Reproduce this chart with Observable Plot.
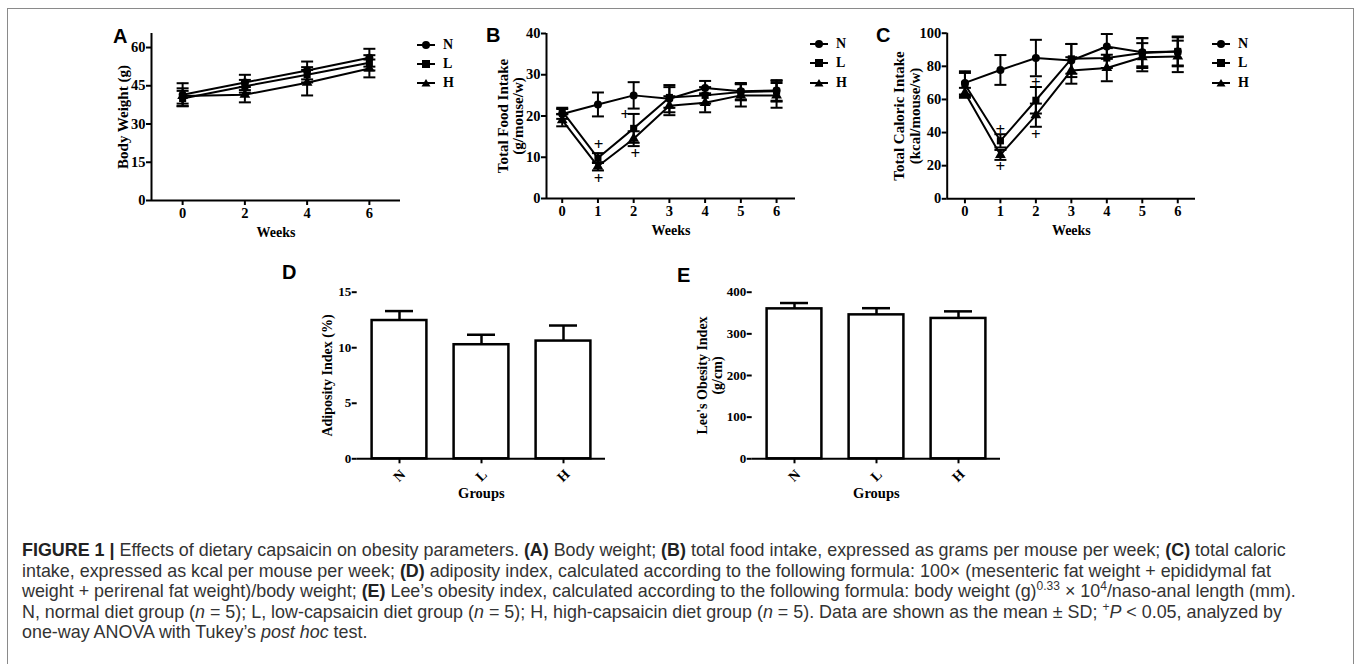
<!DOCTYPE html>
<html>
<head>
<meta charset="utf-8">
<script src="https://cdn.jsdelivr.net/npm/d3@7"></script>
<script src="https://cdn.jsdelivr.net/npm/@observablehq/plot@0.6"></script>
<style>
  html, body { margin: 0; padding: 0; background: #fff; }
  #page { position: relative; width: 1357px; height: 664px; overflow: hidden; background: #fff; }
  #frame { position: absolute; left: 7px; top: 8px; width: 1347px; height: 720px; border: 1.5px solid #8a8a8a; box-sizing: border-box; }
  .panel { position: absolute; }
  .panel svg { overflow: visible; }
  .letter { position: absolute; font-family: "Liberation Sans", Arial, sans-serif; font-weight: bold; font-size: 20px; line-height: 20px; color: #000; }
  .legend { position: absolute; font-family: "Liberation Serif", "Times New Roman", serif; font-weight: bold; font-size: 14px; color: #000; }
  .legend .row { position: absolute; left: 0; height: 14px; display: flex; align-items: center; white-space: nowrap; }
  .legend svg { display: block; margin-right: 8px; }
  #caption { position: absolute; left: 22px; top: 540px; font-family: "Liberation Sans", Arial, sans-serif; font-size: 17.9px; line-height: 20.5px; color: #333; white-space: nowrap; }
  #caption b { color: #222; }
  #caption sup { font-size: 12px; line-height: 0; vertical-align: 7px; }
</style>
</head>
<body>
<div id="page">
  <div id="frame"></div>
</div>
<script>
// ---------------- data ----------------
const groups = ["N", "L", "H"];
const groupSymbols = ["circle", "square", "triangle"];

// Panel A: body weight (g)
const weeksA = [0, 2, 4, 6];
const bodyN = [41.5, 46.3, 51.0, 56.0];
const bodyN_sd = [4.5, 3.0, 3.5, 3.5];
const bodyL = [40.0, 44.8, 49.3, 54.0];
const bodyL_sd = [3.0, 2.5, 3.0, 3.0];
const bodyH = [41.0, 41.5, 46.2, 51.8];
const bodyH_sd = [3.0, 3.0, 5.0, 3.5];
const ticksA_y = [0, 15, 30, 45, 60];
const ticksA_x = [0, 2, 4, 6];

// Panel B: total food intake (g/mouse/w)
const weeksB = [0, 1, 2, 3, 4, 5, 6];
const foodN = [20.5, 22.8, 25.0, 24.2, 26.8, 26.0, 26.2];
const foodN_sd = [1.2, 2.9, 3.2, 3.3, 1.7, 2.0, 2.5];
const foodL = [21.2, 9.8, 17.0, 24.5, 25.0, 25.8, 26.0];
const foodL_sd = [0.8, 1.2, 3.5, 2.5, 2.0, 2.0, 2.5];
const foodH = [19.0, 7.8, 14.5, 22.5, 23.2, 25.0, 25.0];
const foodH_sd = [1.5, 1.0, 1.8, 2.3, 2.3, 2.7, 3.0];
const ticksB_y = [0, 10, 20, 30, 40];
const plusB_x = [1.02, 1.02, 1.77, 2.05];
const plusB_y = [13.0, 4.8, 20.3, 11.0];

// Panel C: total caloric intake (kcal/mouse/w)
const weeksC = [0, 1, 2, 3, 4, 5, 6];
const calN = [70.0, 77.8, 85.0, 83.5, 92.0, 88.5, 89.0];
const calN_sd = [7.0, 9.0, 11.0, 10.0, 7.5, 8.5, 8.5];
const calL = [69.0, 35.0, 59.5, 84.5, 85.0, 88.0, 89.0];
const calL_sd = [7.0, 4.0, 8.0, 9.0, 6.0, 9.0, 9.0];
const calH = [64.0, 26.5, 50.5, 77.5, 79.0, 85.5, 86.0];
const calH_sd = [3.0, 3.0, 7.0, 8.0, 8.0, 8.5, 9.5];
const ticksC_y = [0, 20, 40, 60, 80, 100];
const plusC_x = [1, 1, 2, 2];
const plusC_y = [41.7, 19.5, 70.5, 38.6];

// Panel D: adiposity index (%)
const adiposity = [12.45, 10.27, 10.6];
const adiposity_sd = [0.85, 0.9, 1.4];
const ticksD_y = [0, 5, 10, 15];

// Panel E: Lee's obesity index (g/cm)
const lee = [360, 345.6, 337];
const lee_sd = [14, 16, 17];
const ticksE_y = [0, 100, 200, 300, 400];

// ---------------- helpers ----------------
const page = document.getElementById("page");
const serif = "'Liberation Serif', 'Times New Roman', serif";
const lineStyle = {fontFamily: serif, fontSize: "14.5px", fontWeight: "bold", background: "transparent", color: "#000", overflow: "visible"};
const barStyle = {fontFamily: serif, fontSize: "13px", fontWeight: "bold", background: "transparent", color: "#000", overflow: "visible"};

const capSymbol = {
  draw(context, size) {
    const r = Math.sqrt(size / Math.PI);
    context.moveTo(-r, 0);
    context.lineTo(r, 0);
  }
};

function place(node, left, top) {
  const wrap = document.createElement("div");
  wrap.className = "panel";
  wrap.style.left = left + "px";
  wrap.style.top = top + "px";
  wrap.appendChild(node);
  page.appendChild(wrap);
}

function letter(txt, left, top) {
  const d = document.createElement("div");
  d.className = "letter";
  d.textContent = txt;
  d.style.left = left + "px";
  d.style.top = top + "px";
  page.appendChild(d);
}

function legend(left, tops) {
  const box = document.createElement("div");
  box.className = "legend";
  box.style.left = left + "px";
  box.style.top = "0px";
  groups.forEach((g, i) => {
    const row = document.createElement("div");
    row.className = "row";
    row.style.top = (tops[i] - 7) + "px";
    let marker;
    if (groupSymbols[i] === "circle") marker = '<circle cx="9" cy="7" r="4" fill="#000"/>';
    else if (groupSymbols[i] === "square") marker = '<rect x="5" y="3" width="8" height="8" fill="#000"/>';
    else marker = '<path d="M9,3 L13.5,10.5 L4.5,10.5 Z" fill="#000"/>';
    row.innerHTML = '<svg width="18" height="14"><line x1="0" y1="7" x2="18" y2="7" stroke="#000" stroke-width="2"/>' + marker + '</svg><span>' + g + '</span>';
    box.appendChild(row);
  });
  page.appendChild(box);
}

function linePanel(o) {
  const rows = o.series.flatMap(s => o.weeks.map((w, i) => ({group: s.name, week: w, value: s.values[i], sd: s.sd[i]})));
  const plus = o.plusX.map((x, i) => ({x, y: o.plusY[i]}));
  return Plot.plot({
    width: o.width, height: o.height,
    marginTop: o.mt, marginRight: o.mr, marginBottom: o.mb, marginLeft: o.ml,
    style: lineStyle,
    x: {domain: o.xDomain},
    y: {domain: o.yDomain},
    symbol: {domain: groups, range: groupSymbols},
    marks: [
      Plot.ruleX([o.xDomain[0]], {y1: o.yDomain[0], y2: o.yDomain[1], strokeWidth: 2}),
      Plot.ruleY([o.yDomain[0]], {x1: o.xDomain[0], x2: o.xDomain[1], strokeWidth: 2}),
      Plot.axisY({ticks: o.yTicks, tickSize: 5, tickPadding: 1, strokeWidth: 2, label: null}),
      Plot.axisX({ticks: o.xTicks, tickSize: 5, tickPadding: 2, strokeWidth: 2, label: null, tickFormat: d3.format("d")}),
      Plot.line(rows, {x: "week", y: "value", z: "group", stroke: "#000", strokeWidth: 2}),
      Plot.ruleX(rows, {x: "week", y1: d => d.value - d.sd, y2: d => d.value + d.sd, stroke: "#000", strokeWidth: 2}),
      Plot.dot(rows, {x: "week", y: d => d.value - d.sd, symbol: capSymbol, r: 6, fill: "none", stroke: "#000", strokeWidth: 2}),
      Plot.dot(rows, {x: "week", y: d => d.value + d.sd, symbol: capSymbol, r: 6, fill: "none", stroke: "#000", strokeWidth: 2}),
      Plot.dot(rows, {x: "week", y: "value", symbol: "group", r: 4, fill: "#000", stroke: "none"}),
      Plot.text(plus, {x: "x", y: "y", text: () => "+", fontSize: 17, fill: "#000"}),
      Plot.text([o.xlabel], {text: d => d, frameAnchor: "bottom", textAnchor: "middle", lineAnchor: "middle", dy: o.xlabelDy, fontSize: 14}),
      Plot.text([o.ylabel], {text: d => d, frameAnchor: "left", textAnchor: "middle", lineAnchor: "middle", rotate: -90, dx: o.ylabelDx, fontSize: 15, lineHeight: 1.05})
    ]
  });
}

function barPanel(o) {
  const rows = groups.map((g, i) => ({group: g, value: o.values[i], sd: o.sd[i]}));
  return Plot.plot({
    width: o.width, height: o.height,
    marginTop: o.mt, marginRight: o.mr, marginBottom: o.mb, marginLeft: o.ml,
    style: barStyle,
    x: {type: "band", domain: groups, padding: 0},
    y: {domain: o.yDomain},
    marks: [
      Plot.ruleX(rows, {x: "group", y1: "value", y2: d => d.value + d.sd, stroke: "#000", strokeWidth: 2.5}),
      Plot.tickY(rows, {x: "group", y: d => d.value + d.sd, insetLeft: 27, insetRight: 27, stroke: "#000", strokeWidth: 2.5}),
      Plot.barY(rows, {x: "group", y: "value", fill: "#fff", stroke: "#000", strokeWidth: 2.5, insetLeft: 13.6, insetRight: 13.6}),
      Plot.ruleX([0], {frameAnchor: "left", y1: o.yDomain[0], y2: o.yDomain[1], strokeWidth: 2}),
      Plot.axisY({ticks: o.yTicks, tickSize: 5, tickPadding: 1, strokeWidth: 2, label: null}),
      Plot.axisX({tickSize: 5, strokeWidth: 2, label: null, tickFormat: () => ""}),
      Plot.ruleY([o.yDomain[0]], {strokeWidth: 2}),
      Plot.text(groups, {x: d => d, text: d => d, frameAnchor: "bottom", textAnchor: "middle", lineAnchor: "middle", dy: 17, rotate: -45, fontSize: 14}),
      Plot.text([o.xlabel], {text: d => d, frameAnchor: "bottom", textAnchor: "middle", lineAnchor: "middle", dy: o.xlabelDy, fontSize: 14.5}),
      Plot.text([o.ylabel], {text: d => d, frameAnchor: "left", textAnchor: "middle", lineAnchor: "middle", rotate: -90, dx: o.ylabelDx, fontSize: 14, lineHeight: 1.1})
    ]
  });
}

// ---------------- panels ----------------
place(linePanel({
  weeks: weeksA,
  series: [
    {name: "N", values: bodyN, sd: bodyN_sd},
    {name: "L", values: bodyL, sd: bodyL_sd},
    {name: "H", values: bodyH, sd: bodyH_sd}
  ],
  xDomain: [-1, 7], yDomain: [0, 65.5], yTicks: ticksA_y, xTicks: ticksA_x,
  width: 340, height: 230, ml: 51, mr: 40, mt: 13, mb: 50,
  plusX: [], plusY: [],
  xlabel: "Weeks", xlabelDy: 32,
  ylabel: "Body Weight (g)", ylabelDx: -29
}), 100, 20);

place(linePanel({
  weeks: weeksB,
  series: [
    {name: "N", values: foodN, sd: foodN_sd},
    {name: "L", values: foodL, sd: foodL_sd},
    {name: "H", values: foodH, sd: foodH_sd}
  ],
  xDomain: [-0.44, 6.53], yDomain: [0, 40], yTicks: ticksB_y, xTicks: weeksB,
  width: 380, height: 230, ml: 106, mr: 25, mt: 13, mb: 52,
  plusX: plusB_x, plusY: plusB_y,
  xlabel: "Weeks", xlabelDy: 32,
  ylabel: "Total Food Intake\n(g/mouse/w)", ylabelDx: -36
}), 440, 20);

place(linePanel({
  weeks: weeksC,
  series: [
    {name: "N", values: calN, sd: calN_sd},
    {name: "L", values: calL, sd: calL_sd},
    {name: "H", values: calH, sd: calH_sd}
  ],
  xDomain: [-0.5, 6.5], yDomain: [0, 100], yTicks: ticksC_y, xTicks: weeksC,
  width: 360, height: 230, ml: 66.7, mr: 45, mt: 12.7, mb: 51.7,
  plusX: plusC_x, plusY: plusC_y,
  xlabel: "Weeks", xlabelDy: 32,
  ylabel: "Total Caloric Intake\n(kcal/mouse/w)", ylabelDx: -40
}), 880, 20);

place(barPanel({
  values: adiposity, sd: adiposity_sd, yDomain: [0, 15], yTicks: ticksD_y,
  width: 380, height: 245, ml: 116.7, mr: 15, mt: 31.7, mb: 46.7,
  xlabel: "Groups", xlabelDy: 35,
  ylabel: "Adiposity Index (%)", ylabelDx: -30
}), 240, 260);

place(barPanel({
  values: lee, sd: lee_sd, yDomain: [0, 400], yTicks: ticksE_y,
  width: 400, height: 245, ml: 131.7, mr: 20, mt: 31.7, mb: 46.7,
  xlabel: "Groups", xlabelDy: 35,
  ylabel: "Lee's Obesity Index\n(g/cm)", ylabelDx: -42.5
}), 620, 260);

legend(417, [45, 64, 83]);
legend(810, [44, 63, 83]);
legend(1212, [44, 63, 83]);

letter("A", 113, 26);
letter("B", 486, 25);
letter("C", 876, 25);
letter("D", 282, 262);
letter("E", 677, 265);

// ---------------- caption ----------------
const cap = document.createElement("div");
cap.id = "caption";
cap.innerHTML = [
  "<b>FIGURE 1 |</b> Effects of dietary capsaicin on obesity parameters. <b>(A)</b> Body weight; <b>(B)</b> total food intake, expressed as grams per mouse per week; <b>(C)</b> total caloric",
  "intake, expressed as kcal per mouse per week; <b>(D)</b> adiposity index, calculated according to the following formula: 100× (mesenteric fat weight + epididymal fat",
  "weight + perirenal fat weight)/body weight; <b>(E)</b> Lee’s obesity index, calculated according to the following formula: body weight (g)<sup>0.33</sup> × 10<sup>4</sup>/naso-anal length (mm).",
  "N, normal diet group (<i>n</i> = 5); L, low-capsaicin diet group (<i>n</i> = 5); H, high-capsaicin diet group (<i>n</i> = 5). Data are shown as the mean ± SD; <sup>+</sup><i>P</i> &lt; 0.05, analyzed by",
  "one-way ANOVA with Tukey’s <i>post hoc</i> test."
].map(l => "<div>" + l + "</div>").join("");
page.appendChild(cap);
</script>
</body>
</html>
